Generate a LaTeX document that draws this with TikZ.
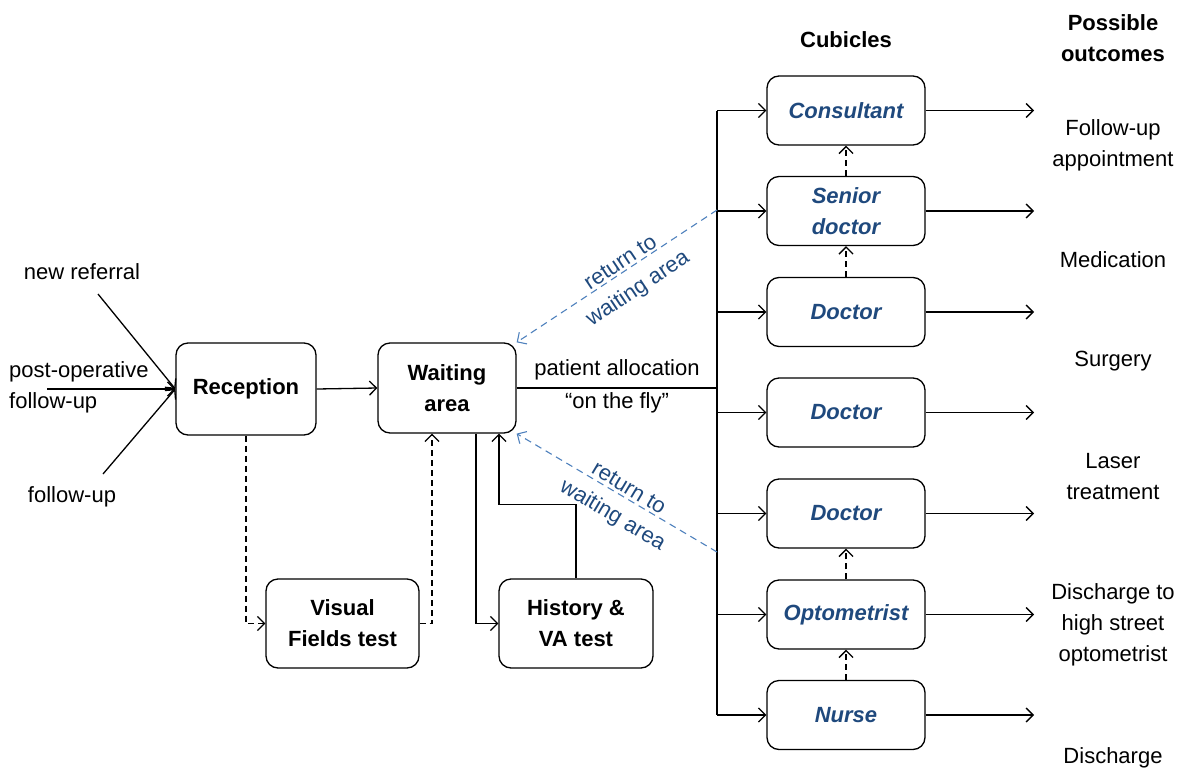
\documentclass[tikz,border=0pt]{standalone}
\usepackage{fontspec}
\setmainfont{Liberation Sans}
\usetikzlibrary{arrows.meta,calc}
\definecolor{txtblue}{RGB}{31,73,125}
\definecolor{lnblue}{RGB}{79,129,189}
\begin{document}
\begin{tikzpicture}[x=1pt,y=-1pt,
  every node/.style={font=\fontsize{22}{31}\selectfont, align=center, inner sep=0pt},
  box/.style={draw, rounded corners=12pt, line width=1.3pt, font=\fontsize{22}{31}\selectfont\bfseries},
  cub/.style={box, minimum width=158pt, minimum height=69pt, text=txtblue, font=\fontsize{22}{31}\selectfont\bfseries\itshape},
  tip/.style={-{Straight Barb[length=7pt,width=14pt,line width=1.3pt]}},
  arr/.style={tip, line width=1.3pt},
  darr/.style={arr, dash pattern=on 6pt off 4pt},
  bdarr/.style={-{Straight Barb[length=7pt,width=14pt,line width=1.1pt]}, line width=1.1pt, lnblue, dash pattern=on 7pt off 5pt},
  lbl/.style={text=txtblue}
]
\useasboundingbox (0,0) rectangle (1184,774);

% main boxes
\node[box, minimum width=140pt, minimum height=92pt] (rec) at (246,389) {Reception};
\node[box, minimum width=138pt, minimum height=90pt] (wait) at (447,388) {Waiting\\area};
\node[box, minimum width=153pt, minimum height=89pt] (vf) at (342.5,623.5) {Visual\\Fields test};
\node[box, minimum width=154pt, minimum height=89pt] (hist) at (576,623.5) {History \&\\VA test};

% cubicles
\node[cub] (c1) at (846,110.5) {Consultant};
\node[cub] (c2) at (846,211) {Senior\\doctor};
\node[cub] (c3) at (846,312) {Doctor};
\node[cub] (c4) at (846,412.5) {Doctor};
\node[cub] (c5) at (846,513.5) {Doctor};
\node[cub] (c6) at (846,614.5) {Optometrist};
\node[cub] (c7) at (846,715) {Nurse};

% headers
\node[font=\fontsize{22}{31}\selectfont\bfseries] (hcub) at (846,40) {Cubicles};
\node[font=\fontsize{22}{31}\selectfont\bfseries] (hout) at (1113,38) {Possible\\outcomes};

% outcomes
\node (o1) at (1113,145) {Follow-up\\appointment};
\node (o2) at (1113,260) {Medication};
\node (o3) at (1113,361) {Surgery};
\node (o4) at (1113,476.5) {Laser\\treatment};
\node (o5) at (1113,625) {Discharge to\\high street\\optometrist};
\node (o6) at (1113,758) {Discharge};

% inputs
\node (tnr) at (82,272) {new referral};
\node[anchor=west, align=left] (tpo) at (9,387) {post-operative\\follow-up};
\node (tfu) at (72,497) {follow-up};
\coordinate (nr) at (98,294);
\coordinate (po) at (47,389);
\coordinate (fu) at (103,474);
\draw[arr] (nr) -- (rec.west);
\draw[arr] (po) -- (rec.west);
\draw[arr] (fu) -- (rec.west);

% reception to waiting
\draw[arr] (rec.east) -- (wait.east -| wait.west);

% bus
\coordinate (bus) at (717,388);
\coordinate (bustop) at (717,110.5);
\coordinate (busbot) at (717,715);
\draw[line width=2.2pt] (wait.east) -- (bus);
\draw[line width=1.3pt] (bustop) -- (busbot);
\node (alloc) at (617,370) {patient allocation};
\node (fly) at (617,403) {“on the fly”};
\foreach \c in {c1,c2,c3,c4,c5,c6,c7} {
  \draw[arr] (bus |- \c.west) -- (\c.west);
}

% outputs
\coordinate (outx) at (1034,0);
\foreach \c in {c1,c2,c3,c4,c5,c6,c7} {
  \draw[arr] (\c.east) -- (\c.east -| outx);
}

% escalation
\draw[darr] (c2.north) -- (c1.south);
\draw[darr] (c3.north) -- (c2.south);
\draw[darr] (c6.north) -- (c5.south);
\draw[darr] (c7.north) -- (c6.south);

% tests
\draw[darr] (rec.south) |- (vf.west);
\draw[darr] (vf.east) -| ([xshift=-15pt]wait.south);
\draw[arr] ([xshift=29pt]wait.south) |- (hist.west);
\draw[arr] (hist.north) -- ++(0,-74) -| ([xshift=52pt]wait.south);

% returns
\coordinate (r1) at (717,210);
\coordinate (r2) at (717,552);
\draw[bdarr] (r1) -- (wait.north east);
\draw[bdarr] (r2) -- (wait.south east);
\node[lbl, rotate=33.6] (l1) at (630,277) {return to\\waiting area};
\node[lbl, rotate=-30.8] (l2) at (620,503) {return to\\waiting area};
\end{tikzpicture}
\end{document}
